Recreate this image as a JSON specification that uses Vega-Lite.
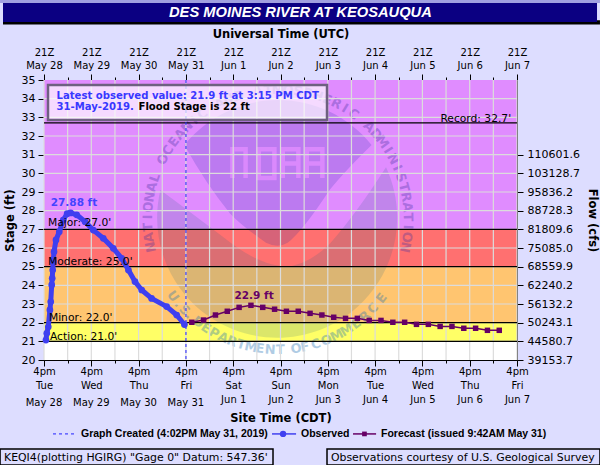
{"$schema":"https://vega.github.io/schema/vega-lite/v6.json","width":473,"height":280,"autosize":"none","padding":{"left":44,"top":80,"right":83,"bottom":105},"background":"#DDDDFF","view":{"stroke":null},"config":{"axis":{"labelFont":"DejaVu Sans","labelColor":"#000","labelFlush":false,"titleFont":"DejaVu Sans","titleFontWeight":"bold","titleFontSize":11.5,"titleColor":"#000","tickColor":"#000","domainColor":"#000","grid":false,"zindex":1}},
"datasets":{
"frame":[{"a":"2019-05-27T22:42:00Z","b":"2019-06-09T15:06:00Z","lo":39.125,"hi":39.286,"part":"strip"},{"a":"2019-05-28T00:12:00Z","b":"2019-06-09T15:06:00Z","lo":37.97,"hi":38.2,"part":"shadow"},{"a":"2019-05-28T00:12:00Z","b":"2019-06-09T13:36:00Z","lo":38.107,"hi":39.125,"part":"banner"}],
"bands":[{"band":"none","lo":20,"hi":21},{"band":"action","lo":21,"hi":22},{"band":"minor","lo":22,"hi":25},{"band":"moderate","lo":25,"hi":27},{"band":"major","lo":27,"hi":35}],
"gridx":[{"t":1559077200000},{"t":1559120400000},{"t":1559163600000},{"t":1559206800000},{"t":1559250000000},{"t":1559293200000},{"t":1559336400000},{"t":1559379600000},{"t":1559422800000},{"t":1559466000000},{"t":1559509200000},{"t":1559552400000},{"t":1559595600000},{"t":1559638800000},{"t":1559682000000},{"t":1559725200000},{"t":1559768400000},{"t":1559811600000},{"t":1559854800000},{"t":1559898000000},{"t":1559941200000}],
"gridy":[{"s":21},{"s":22},{"s":23},{"s":24},{"s":25},{"s":26},{"s":27},{"s":28},{"s":29},{"s":30},{"s":31},{"s":32},{"s":33},{"s":34}],
"levels":[{"s":21,"name":"Action"},{"s":22,"name":"Minor"},{"s":25,"name":"Moderate"},{"s":27,"name":"Major"},{"s":32.7,"name":"Record"}],
"ringTop":[{"c":"N","d":-102},{"c":"A","d":-97.6},{"c":"T","d":-93.1},{"c":"I","d":-88.7},{"c":"O","d":-84.3},{"c":"N","d":-79.8},{"c":"A","d":-75.4},{"c":"L","d":-71},{"c":"O","d":-62.1},{"c":"C","d":-57.7},{"c":"E","d":-53.2},{"c":"A","d":-48.8},{"c":"N","d":-44.3},{"c":"I","d":-39.9},{"c":"C","d":-35.5},{"c":"A","d":-26.6},{"c":"N","d":-22.2},{"c":"D","d":-17.7},{"c":"A","d":-8.9},{"c":"T","d":-4.4},{"c":"M","d":0},{"c":"O","d":4.4},{"c":"S","d":8.9},{"c":"P","d":13.3},{"c":"H","d":17.7},{"c":"E","d":22.2},{"c":"R","d":26.6},{"c":"I","d":31},{"c":"C","d":35.5},{"c":"A","d":44.3},{"c":"D","d":48.8},{"c":"M","d":53.2},{"c":"I","d":57.7},{"c":"N","d":62.1},{"c":"I","d":66.5},{"c":"S","d":71},{"c":"T","d":75.4},{"c":"R","d":79.8},{"c":"A","d":84.3},{"c":"T","d":88.7},{"c":"I","d":93.1},{"c":"O","d":97.6},{"c":"N","d":102}],
"ringBottom":[{"c":"U","d":234},{"c":".","d":230},{"c":"S","d":226},{"c":".","d":223},{"c":"D","d":218},{"c":"E","d":213.7},{"c":"P","d":209.4},{"c":"A","d":205},{"c":"R","d":200.8},{"c":"T","d":196.5},{"c":"M","d":192},{"c":"E","d":188},{"c":"N","d":183.5},{"c":"T","d":179},{"c":"O","d":172},{"c":"F","d":168},{"c":"C","d":163},{"c":"O","d":158},{"c":"M","d":153},{"c":"M","d":148},{"c":"E","d":143},{"c":"R","d":138},{"c":"C","d":133},{"c":"E","d":127}],
"observed":[{"t":"2019-05-28T22:00:00Z","s":21.07},{"t":"2019-05-28T22:25:00Z","s":21.43},{"t":"2019-05-28T23:10:00Z","s":21.78},{"t":"2019-05-29T00:00:00Z","s":22.68},{"t":"2019-05-29T00:25:00Z","s":23.12},{"t":"2019-05-29T00:55:00Z","s":24.02},{"t":"2019-05-29T01:10:00Z","s":24.38},{"t":"2019-05-29T01:25:00Z","s":24.82},{"t":"2019-05-29T01:40:00Z","s":25.27},{"t":"2019-05-29T02:05:00Z","s":25.8},{"t":"2019-05-29T03:05:00Z","s":26.43},{"t":"2019-05-29T04:45:00Z","s":26.87},{"t":"2019-05-29T06:45:00Z","s":27.5},{"t":"2019-05-29T08:45:00Z","s":27.84},{"t":"2019-05-29T10:30:00Z","s":27.88},{"t":"2019-05-29T13:35:00Z","s":27.78},{"t":"2019-05-29T17:50:00Z","s":27.41},{"t":"2019-05-29T22:00:00Z","s":26.96},{"t":"2019-05-30T03:05:00Z","s":26.52},{"t":"2019-05-30T08:10:00Z","s":25.98},{"t":"2019-05-30T12:25:00Z","s":25.45},{"t":"2019-05-30T15:50:00Z","s":24.82},{"t":"2019-05-30T19:10:00Z","s":24.2},{"t":"2019-05-30T22:35:00Z","s":23.75},{"t":"2019-05-31T03:35:00Z","s":23.3},{"t":"2019-05-31T11:15:00Z","s":22.86},{"t":"2019-05-31T16:20:00Z","s":22.41},{"t":"2019-05-31T20:15:00Z","s":21.9}],
"forecast":[{"t":"2019-06-01T00:00:00Z","s":22.02},{"t":"2019-06-01T06:00:00Z","s":22.14},{"t":"2019-06-01T12:00:00Z","s":22.41},{"t":"2019-06-01T18:00:00Z","s":22.61},{"t":"2019-06-02T00:00:00Z","s":22.82},{"t":"2019-06-02T06:00:00Z","s":22.93},{"t":"2019-06-02T12:00:00Z","s":22.82},{"t":"2019-06-02T18:00:00Z","s":22.72},{"t":"2019-06-03T00:00:00Z","s":22.61},{"t":"2019-06-03T06:00:00Z","s":22.61},{"t":"2019-06-03T12:00:00Z","s":22.5},{"t":"2019-06-03T18:00:00Z","s":22.41},{"t":"2019-06-04T00:00:00Z","s":22.29},{"t":"2019-06-04T06:00:00Z","s":22.23},{"t":"2019-06-04T12:00:00Z","s":22.23},{"t":"2019-06-04T18:00:00Z","s":22.12},{"t":"2019-06-05T00:00:00Z","s":22.12},{"t":"2019-06-05T06:00:00Z","s":22.02},{"t":"2019-06-05T12:00:00Z","s":22.02},{"t":"2019-06-05T18:00:00Z","s":21.91},{"t":"2019-06-06T00:00:00Z","s":21.91},{"t":"2019-06-06T06:00:00Z","s":21.8},{"t":"2019-06-06T12:00:00Z","s":21.8},{"t":"2019-06-06T18:00:00Z","s":21.7},{"t":"2019-06-07T00:00:00Z","s":21.7},{"t":"2019-06-07T06:00:00Z","s":21.59},{"t":"2019-06-07T12:00:00Z","s":21.59}]
},
"layer":[
{"data":{"name":"frame"},"mark":{"type":"rect"},"encoding":{"x":{"field":"a","type":"temporal","axis":null,"scale":{"domain":[1559077200000,1559941200000]}},"x2":{"field":"b"},"y":{"field":"lo","type":"quantitative","axis":null,"scale":{"domain":[20,35],"nice":false,"zero":false}},"y2":{"field":"hi"},"color":{"field":"part","type":"nominal","legend":null,"scale":{"domain":["strip","shadow","banner"],"range":["#A0A0E0","#000000","#0B0082"]}}}},
{"data":{"name":"bands"},"mark":{"type":"rect"},"encoding":{"y":{"field":"lo","type":"quantitative","axis":null},"y2":{"field":"hi"},"fill":{"field":"band","type":"nominal","legend":null,"scale":{"domain":["none","action","minor","moderate","major"],"range":["#FFFFFF","#FFFF66","#FFC570","#FF7070","#E08CFF"]}}}},
{"data":{"values":[{"part":"sky"}]},"mark":{"type":"point","filled":true,"size":57600,"fill":"#0C22A7","opacity":0.17,"strokeWidth":0,"shape":"M-.78,-.625 A1,1 0 0 1 .78,-.625 Q .55,-.4 .43,-.25 Q .2,.1 .08,.19 Q0,.24 -.1,.19 Q -.3,.05 -.40,-.055 Q -.6,-.3 -.78,-.625 Z"},"encoding":{"x":{"datum":1559504628000,"type":"temporal","axis":null},"y":{"datum":27.5,"type":"quantitative","axis":null}}},
{"data":{"values":[{"part":"sea"}]},"mark":{"type":"point","filled":true,"size":57600,"fill":"#1E6482","opacity":0.16,"strokeWidth":0,"shape":"M-.98,-.25 A1,1 0 1 0 .90,-.44 Q .65,-.05 .43,.2 Q .2,.42 0,.38 Q -.2,.35 -.46,.14 Q -.75,-.08 -.98,-.25 Z"},"encoding":{"x":{"datum":1559504628000,"type":"temporal","axis":null},"y":{"datum":27.5,"type":"quantitative","axis":null}}},
{"data":{"values":[{"part":"letters"}]},"mark":{"type":"point","filled":false,"size":57600,"stroke":"#E08CFF","opacity":0.85,"strokeWidth":4.5,"shape":"M-.38,-.35V-.59H-.27V-.35M-.16,-.35V-.59H-.03V-.35ZM.04,-.35V-.59H.17V-.35M.04,-.47H.17M.24,-.35V-.59H.37V-.35M.24,-.47H.37"},"encoding":{"x":{"datum":1559504628000,"type":"temporal","axis":null},"y":{"datum":27.5,"type":"quantitative","axis":null}}},
{"data":{"name":"ringTop"},"mark":{"type":"text","font":"DejaVu Sans","fontWeight":"bold","fontSize":13,"fill":"#4030A0","opacity":0.32,"baseline":"middle"},"encoding":{"x":{"datum":1559504628000,"type":"temporal","axis":null},"y":{"datum":27.5,"type":"quantitative","axis":null},"text":{"field":"c"},"theta":{"field":"d","type":"quantitative","scale":{"domain":[-180,360],"range":[-3.14159265,6.2831853]}},"radius":{"value":130},"angle":{"field":"d","type":"quantitative","scale":{"domain":[-180,180],"range":[-180,180]}}}},
{"data":{"name":"ringBottom"},"mark":{"type":"text","font":"DejaVu Sans","fontWeight":"bold","fontSize":13,"fill":"#1D70B5","opacity":0.35,"baseline":"middle"},"encoding":{"x":{"datum":1559504628000,"type":"temporal","axis":null},"y":{"datum":27.5,"type":"quantitative","axis":null},"text":{"field":"c"},"theta":{"field":"d","type":"quantitative","scale":{"domain":[-180,360],"range":[-3.14159265,6.2831853]}},"radius":{"value":130},"angle":{"field":"d","type":"quantitative","scale":{"domain":[125,235],"range":[-55,55]}}}},
{"data":{"name":"gridx"},"mark":{"type":"rule","stroke":"#DCDCDC","strokeWidth":1.2},"encoding":{"x":{"field":"t","type":"temporal","axis":{"orient":"bottom","title":"Site Time (CDT)","titlePadding":8,"labelFlush":false,"values":[1559077200000,1559120400000,1559163600000,1559206800000,1559250000000,1559293200000,1559336400000,1559379600000,1559422800000,1559466000000,1559509200000,1559552400000,1559595600000,1559638800000,1559682000000,1559725200000,1559768400000,1559811600000,1559854800000,1559898000000,1559941200000],"tickSize":{"condition":{"test":"utchours(datum.value)==21","value":6},"value":3},"labelFontSize":10,"labelPadding":0,"labelLineHeight":14,"labelOverlap":false,"labelExpr":"utchours(datum.value)!=21?'':(utcFormat(datum.value,'%b')=='May'?['4pm',utcFormat(datum.value,'%a')]:['4pm',utcFormat(datum.value,'%a'),utcFormat(datum.value,'%b %-d')])"}}}},
{"data":{"name":"gridy"},"mark":{"type":"rule","stroke":"#DCDCDC","strokeWidth":1.2},"encoding":{"y":{"field":"s","type":"quantitative","axis":{"orient":"left","title":"Stage (ft)","titlePadding":6,"values":[20,21,22,23,24,25,26,27,28,29,30,31,32,33,34,35],"tickSize":6,"labelFontSize":11,"labelPadding":3}}}},
{"data":{"name":"levels"},"mark":{"type":"rule","stroke":"#000","strokeWidth":1.2},"encoding":{"y":{"field":"s","type":"quantitative","axis":{"orient":"right","title":"Flow (cfs)","titlePadding":7,"values":[20,21,22,23,24,25,26,27,28,29,30,31],"tickSize":6,"labelFontSize":11,"labelPadding":4,"labelExpr":"{'20':'39153.7','21':'44580.7','22':'50243.1','23':'56132.2','24':'62240.2','25':'68559.9','26':'75085.0','27':'81809.6','28':'88728.3','29':'95836.2','30':'103128.7','31':'110601.6'}[datum.value]"}}}},
{"data":{"values":[{"t":"2019-05-31T21:02:00Z","what":"Graph Created"}]},"mark":{"type":"rule","stroke":"#2020FF","strokeWidth":1,"strokeDash":[3,3]},"encoding":{"x":{"field":"t","type":"temporal","axis":{"orient":"top","title":"Universal Time (UTC)","titlePadding":8,"labelFlush":false,"values":[1559077200000,1559120400000,1559163600000,1559206800000,1559250000000,1559293200000,1559336400000,1559379600000,1559422800000,1559466000000,1559509200000,1559552400000,1559595600000,1559638800000,1559682000000,1559725200000,1559768400000,1559811600000,1559854800000,1559898000000,1559941200000],"tickSize":{"condition":{"test":"utchours(datum.value)==21","value":6},"value":3},"labelFontSize":10,"labelPadding":17,"labelLineHeight":13,"labelOverlap":false,"labelExpr":"utchours(datum.value)!=21?'':['21Z',utcFormat(datum.value,'%b %-d')]"}}}},
{"data":{"name":"forecast"},"mark":{"type":"line","stroke":"#660066","strokeWidth":1.5},"encoding":{"x":{"field":"t","type":"temporal","axis":null},"y":{"field":"s","type":"quantitative","axis":null}}},
{"data":{"name":"forecast"},"mark":{"type":"point","shape":"square","filled":true,"fill":"#660066","size":30,"opacity":1},"encoding":{"x":{"field":"t","type":"temporal","axis":null},"y":{"field":"s","type":"quantitative","axis":null}}},
{"data":{"name":"observed"},"mark":{"type":"line","stroke":"#3F3FF0","strokeWidth":5,"strokeCap":"round","strokeJoin":"round"},"encoding":{"x":{"field":"t","type":"temporal","axis":null},"y":{"field":"s","type":"quantitative","axis":null}}},
{"data":{"name":"observed"},"mark":{"type":"point","filled":true,"fill":"#3F3FF0","size":45,"opacity":1},"encoding":{"x":{"field":"t","type":"temporal","axis":null},"y":{"field":"s","type":"quantitative","axis":null}}},
{"data":{"values":[{"a":"2019-05-28T23:02:00Z","b":"2019-06-03T20:36:00Z","lo":32.86,"hi":34.73}]},"mark":{"type":"rect","fill":"#FFFFFF","fillOpacity":0.68,"stroke":"#6E6080","strokeWidth":2.5},"encoding":{"x":{"field":"a","type":"temporal","axis":null},"x2":{"field":"b"},"y":{"field":"lo","type":"quantitative","axis":null},"y2":{"field":"hi"}}},
{"data":{"values":[{"t":"2019-05-29T03:20:00Z","s":34.14,"txt":"Latest observed value: 21.9 ft at 3:15 PM CDT"},{"t":"2019-05-29T03:20:00Z","s":33.55,"txt":"31-May-2019."}]},"mark":{"type":"text","font":"DejaVu Sans","fontWeight":"bold","fontSize":10.1,"fill":"#3838FF","align":"left","baseline":"middle"},"encoding":{"x":{"field":"t","type":"temporal","axis":null},"y":{"field":"s","type":"quantitative","axis":null},"text":{"field":"txt"}}},
{"data":{"values":[{"t":"2019-05-30T20:57:00Z","s":33.55,"txt":"Flood Stage is 22 ft"}]},"mark":{"type":"text","font":"DejaVu Sans","fontWeight":"bold","fontSize":10.1,"fill":"#000","align":"left","baseline":"middle"},"encoding":{"x":{"field":"t","type":"temporal","axis":null},"y":{"field":"s","type":"quantitative","axis":null},"text":{"field":"txt"}}},
{"data":{"values":[{"t":"2019-05-28T23:02:00Z","s":27.34,"txt":"Major: 27.0'"},{"t":"2019-05-28T23:02:00Z","s":25.25,"txt":"Moderate: 25.0'"},{"t":"2019-05-28T23:30:00Z","s":22.25,"txt":"Minor: 22.0'"},{"t":"2019-05-29T00:02:00Z","s":21.23,"txt":"Action: 21.0'"}]},"mark":{"type":"text","font":"DejaVu Sans","fontSize":10.7,"fill":"#000","align":"left","baseline":"middle"},"encoding":{"x":{"field":"t","type":"temporal","axis":null},"y":{"field":"s","type":"quantitative","axis":null},"text":{"field":"txt"}}},
{"data":{"values":[{"t":"2019-06-07T18:00:00Z","s":32.91,"txt":"Record: 32.7'"}]},"mark":{"type":"text","font":"DejaVu Sans","fontSize":10.7,"fill":"#000","align":"right","baseline":"middle"},"encoding":{"x":{"field":"t","type":"temporal","axis":null},"y":{"field":"s","type":"quantitative","axis":null},"text":{"field":"txt"}}},
{"data":{"values":[{"t":"2019-05-29T12:12:00Z","s":28.41,"txt":"27.88 ft"}]},"mark":{"type":"text","font":"DejaVu Sans","fontWeight":"bold","fontSize":10.5,"fill":"#4444FF","baseline":"middle"},"encoding":{"x":{"field":"t","type":"temporal","axis":null},"y":{"field":"s","type":"quantitative","axis":null},"text":{"field":"txt"}}},
{"data":{"values":[{"t":"2019-06-02T07:36:00Z","s":23.43,"txt":"22.9 ft"}]},"mark":{"type":"text","font":"DejaVu Sans","fontWeight":"bold","fontSize":10.5,"fill":"#660066","baseline":"middle"},"encoding":{"x":{"field":"t","type":"temporal","axis":null},"y":{"field":"s","type":"quantitative","axis":null},"text":{"field":"txt"}}},
{"data":{"values":[{"t":"2019-05-28T21:00:00Z","s":17.7,"txt":"May 28"},{"t":"2019-05-29T21:00:00Z","s":17.7,"txt":"May 29"},{"t":"2019-05-30T21:00:00Z","s":17.7,"txt":"May 30"},{"t":"2019-05-31T21:00:00Z","s":17.7,"txt":"May 31"}]},"mark":{"type":"text","font":"DejaVu Sans","fontSize":10,"fill":"#000","baseline":"middle"},"encoding":{"x":{"field":"t","type":"temporal","axis":null},"y":{"field":"s","type":"quantitative","axis":null},"text":{"field":"txt"}}},
{"data":{"values":[{"t":"2019-06-03T07:06:00Z","s":38.616,"txt":"DES MOINES RIVER AT KEOSAUQUA"}]},"mark":{"type":"text","font":"Liberation Sans","fontWeight":"bold","fontStyle":"italic","fontSize":14.7,"fill":"#FFFFFF","baseline":"middle"},"encoding":{"x":{"field":"t","type":"temporal","axis":null},"y":{"field":"s","type":"quantitative","axis":null},"text":{"field":"txt"}}},
{"data":{"values":[{"a":"2019-05-29T01:34:00Z","b":"2019-05-29T12:44:00Z","s":16.04}]},"mark":{"type":"rule","stroke":"#2020FF","strokeWidth":1,"strokeDash":[3,3]},"encoding":{"x":{"field":"a","type":"temporal","axis":null},"x2":{"field":"b"},"y":{"field":"s","type":"quantitative","axis":null}}},
{"data":{"values":[{"a":"2019-06-02T16:42:00Z","b":"2019-06-03T04:54:00Z","s":16.04}]},"mark":{"type":"rule","stroke":"#3F3FF0","strokeWidth":1.5},"encoding":{"x":{"field":"a","type":"temporal","axis":null},"x2":{"field":"b"},"y":{"field":"s","type":"quantitative","axis":null}}},
{"data":{"values":[{"a":"2019-06-04T09:48:00Z","b":"2019-06-04T21:30:00Z","s":16.04}]},"mark":{"type":"rule","stroke":"#660066","strokeWidth":1.5},"encoding":{"x":{"field":"a","type":"temporal","axis":null},"x2":{"field":"b"},"y":{"field":"s","type":"quantitative","axis":null}}},
{"data":{"values":[{"t":"2019-06-02T22:18:00Z","s":16.04}]},"mark":{"type":"point","filled":true,"fill":"#3F3FF0","size":40,"opacity":1},"encoding":{"x":{"field":"t","type":"temporal","axis":null},"y":{"field":"s","type":"quantitative","axis":null}}},
{"data":{"values":[{"t":"2019-06-04T15:36:00Z","s":16.04}]},"mark":{"type":"point","shape":"square","filled":true,"fill":"#660066","size":22,"opacity":1},"encoding":{"x":{"field":"t","type":"temporal","axis":null},"y":{"field":"s","type":"quantitative","axis":null}}},
{"data":{"values":[{"t":"2019-05-29T15:46:00Z","s":16.04,"txt":"Graph Created (4:02PM May 31, 2019)"},{"t":"2019-06-03T07:24:00Z","s":16.04,"txt":"Observed"},{"t":"2019-06-05T00:00:00Z","s":16.04,"txt":"Forecast (issued 9:42AM May 31)"}]},"mark":{"type":"text","font":"Liberation Sans","fontWeight":"bold","fontSize":10.5,"fill":"#000","align":"left","baseline":"middle"},"encoding":{"x":{"field":"t","type":"temporal","axis":null},"y":{"field":"s","type":"quantitative","axis":null},"text":{"field":"txt"}}},
{"data":{"values":[{"a":"2019-05-27T22:42:00Z","b":"2019-06-02T17:12:00Z","lo":14.375,"hi":15.23},{"a":"2019-06-03T20:36:00Z","b":"2019-06-09T15:06:00Z","lo":14.375,"hi":15.23}]},"mark":{"type":"rect","fill":"#DDDDFF","stroke":"#000","strokeWidth":1.5},"encoding":{"x":{"field":"a","type":"temporal","axis":null},"x2":{"field":"b"},"y":{"field":"lo","type":"quantitative","axis":null},"y2":{"field":"hi"}}},
{"data":{"values":[{"t":"2019-05-28T00:42:00Z","s":14.75,"txt":"KEQI4(plotting HGIRG) \"Gage 0\" Datum: 547.36'"},{"t":"2019-06-03T22:36:00Z","s":14.75,"txt":"Observations courtesy of U.S. Geological Survey"}]},"mark":{"type":"text","font":"DejaVu Sans","fontSize":10.9,"fill":"#000","align":"left","baseline":"middle"},"encoding":{"x":{"field":"t","type":"temporal","axis":null},"y":{"field":"s","type":"quantitative","axis":null},"text":{"field":"txt"}}}
],
"resolve":{"axis":{"x":"independent","y":"independent"},"scale":{"angle":"independent"}}}
